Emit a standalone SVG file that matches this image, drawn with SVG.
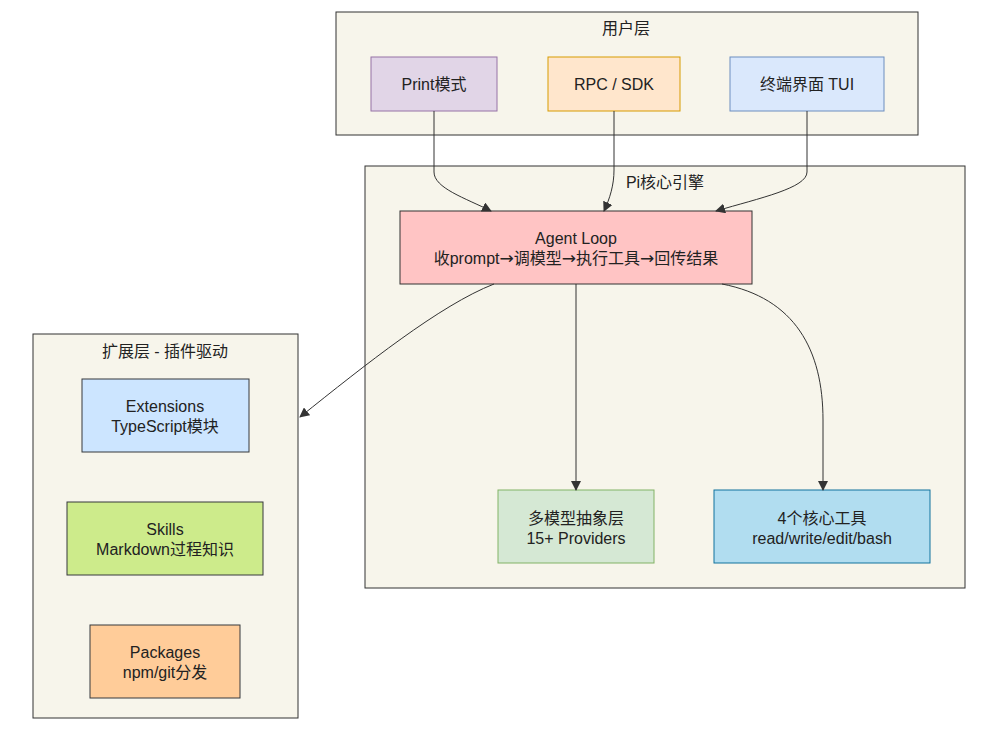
<svg xmlns="http://www.w3.org/2000/svg" width="984" height="737" viewBox="0 0 984 737">
<defs>
<marker id="arr" viewBox="0 0 10 10" refX="9" refY="5" markerWidth="10" markerHeight="10" markerUnits="userSpaceOnUse" orient="auto">
<path d="M0,0 L10,5 L0,10 z" fill="#333"/>
</marker>
<style>
.layer{fill:#f7f5eb;stroke:#333;stroke-width:1}
.n{stroke-width:1}
text{font-family:"Liberation Sans","Noto Sans CJK SC",sans-serif;font-size:16px;fill:#222;text-anchor:middle;dominant-baseline:central}
.ar{font-family:"DejaVu Sans",sans-serif;font-size:17px}
.c{fill:none;stroke:#333;stroke-width:1;marker-end:url(#arr)}
</style>
</defs>
<rect width="984" height="737" fill="#fff"/>
<g id="user-layer">
<rect class="layer" x="336" y="12" width="582" height="123"/>
<text x="626" y="28">用户层</text>
</g>
<g id="core-layer">
<rect class="layer" x="365" y="166" width="600" height="422"/>
<text x="665" y="182">Pi核心引擎</text>
</g>
<g id="ext-layer">
<rect class="layer" x="33" y="334" width="265" height="384"/>
<text x="165" y="351">扩展层 - 插件驱动</text>
</g>
<g id="print">
<rect class="n" x="371" y="57" width="126" height="54" fill="#e1d5e7" stroke="#9673a6"/>
<text x="434" y="84">Print模式</text>
</g>
<g id="rpc">
<rect class="n" x="548" y="57" width="132" height="54" fill="#ffe6cc" stroke="#d79b00"/>
<text x="614" y="84">RPC / SDK</text>
</g>
<g id="tui">
<rect class="n" x="730" y="57" width="154" height="54" fill="#dae8fc" stroke="#6c8ebf"/>
<text x="807" y="84">终端界面 TUI</text>
</g>
<g id="agent">
<rect class="n" x="400" y="211" width="352" height="73" fill="#ffc4c4" stroke="#333"/>
<text x="576" y="238">Agent Loop</text>
<text x="576" y="258">收prompt<tspan class="ar">→</tspan>调模型<tspan class="ar">→</tspan>执行工具<tspan class="ar">→</tspan>回传结果</text>
</g>
<g id="providers">
<rect class="n" x="498" y="490" width="156" height="73" fill="#d5e8d4" stroke="#82b366"/>
<text x="576" y="518">多模型抽象层</text>
<text x="576" y="538">15+ Providers</text>
</g>
<g id="tools">
<rect class="n" x="714" y="490" width="216" height="73" fill="#b1ddf0" stroke="#10739e"/>
<text x="822" y="518">4个核心工具</text>
<text x="822" y="538">read/write/edit/bash</text>
</g>
<g id="extensions">
<rect class="n" x="82" y="379" width="167" height="73" fill="#cce5ff" stroke="#36393d"/>
<text x="165" y="406">Extensions</text>
<text x="165" y="426">TypeScript模块</text>
</g>
<g id="skills">
<rect class="n" x="67" y="502" width="196" height="73" fill="#cdeb8b" stroke="#36393d"/>
<text x="165" y="529">Skills</text>
<text x="165" y="549">Markdown过程知识</text>
</g>
<g id="packages">
<rect class="n" x="90" y="625" width="150" height="73" fill="#ffcc99" stroke="#36393d"/>
<text x="165" y="652">Packages</text>
<text x="165" y="672">npm/git分发</text>
</g>
<g id="connectors">
<path class="c" d="M434,111 V172 C434,188 465,198 491,211"/>
<path class="c" d="M614,111 V170 C614,185 610,198 604,211"/>
<path class="c" d="M807,111 V172 C807,188 760,198 716,211"/>
<path class="c" d="M494,284 C440,305 365,365 300,417"/>
<path class="c" d="M576,284 V490"/>
<path class="c" d="M722,284 C795,298 823,350 823,420 V490"/>
</g>
</svg>
